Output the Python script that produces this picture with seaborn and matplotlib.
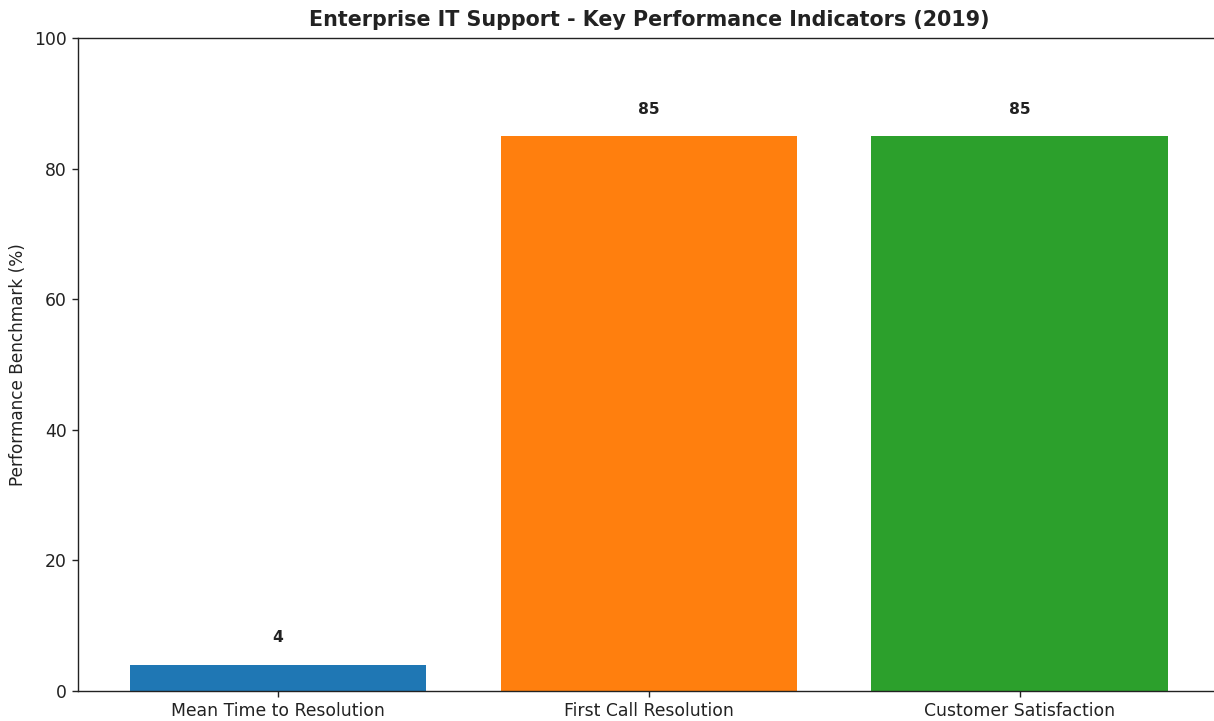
import matplotlib
matplotlib.use("Agg")
import matplotlib.pyplot as plt
import seaborn as sns
import pandas as pd

# KPI data
categories = ["Mean Time to Resolution", "First Call Resolution", "Customer Satisfaction"]
values = [4, 85, 85]
colors = ["#1f77b4", "#ff7f0e", "#2ca02c"]

df = pd.DataFrame({"kpi": categories, "value": values})

text_color = "#222222"
plt.rcParams["text.color"] = text_color
plt.rcParams["axes.labelcolor"] = text_color
plt.rcParams["xtick.color"] = text_color
plt.rcParams["ytick.color"] = text_color
plt.rcParams["axes.edgecolor"] = "#222222"

fig, ax = plt.subplots(figsize=(12.14, 7.21), dpi=100)
sns.barplot(data=df, x="kpi", y="value", hue="kpi", palette=colors,
            width=0.8, saturation=1, legend=False, ax=ax)

for i, v in enumerate(values):
    ax.text(i, v + 3, f"{v}", ha="center", va="bottom", fontweight="bold", fontsize=11.2)

ax.set_xlim(-0.54, 2.54)
ax.set_ylim(0, 100)
ax.set_xlabel("")
ax.set_ylabel("Performance Benchmark (%)", fontsize=12.2, labelpad=5)
ax.set_title("Enterprise IT Support - Key Performance Indicators (2019)",
             fontweight="bold", fontsize=14.9, pad=9)
ax.tick_params(labelsize=12.4, length=4.3, width=1.0)
for s in ax.spines.values():
    s.set_linewidth(1.0)
# right edge of the axes falls just outside the image in the reference
ax.spines["right"].set_visible(False)

plt.subplots_adjust(left=0.064, right=1.005, top=0.947, bottom=0.042)
fig.savefig("out.png", dpi=100)
